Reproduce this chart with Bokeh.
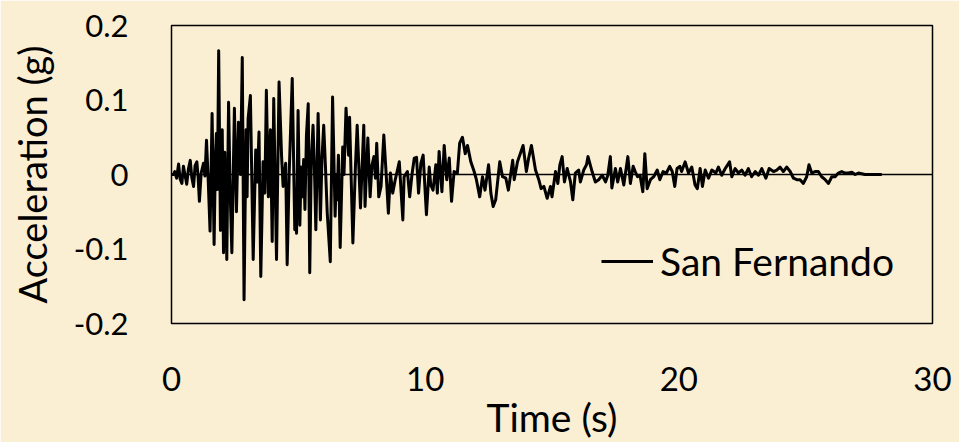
from bokeh.plotting import figure
from bokeh.models import FixedTicker, Span, Legend, LegendItem, ColumnDataSource
from bokeh.embed import file_html
from bokeh.resources import INLINE

# ---- data ----
time_s = [0.0, 0.08, 0.13, 0.2, 0.28, 0.34, 0.41, 0.47, 0.53, 0.6, 0.67, 0.74, 0.8, 0.87, 0.93, 1.0,
          1.05, 1.1, 1.17, 1.26, 1.32, 1.38, 1.45, 1.52, 1.6, 1.68, 1.73, 1.77, 1.81, 1.86, 1.93, 2.0,
          2.05, 2.1, 2.18, 2.25, 2.31, 2.38, 2.48, 2.56, 2.64, 2.72, 2.79, 2.86, 2.94, 2.98, 3.02, 3.11,
          3.22, 3.32, 3.38, 3.45, 3.52, 3.61, 3.68, 3.74, 3.82, 3.9, 3.97, 4.03, 4.14, 4.24, 4.34, 4.4,
          4.5, 4.56, 4.64, 4.76, 4.86, 4.9, 4.93, 4.99, 5.06, 5.11, 5.16, 5.21, 5.26, 5.32, 5.39, 5.45,
          5.51, 5.58, 5.64, 5.69, 5.78, 5.87, 5.93, 6.0, 6.07, 6.14, 6.26, 6.35, 6.45, 6.5, 6.53, 6.58,
          6.65, 6.75, 6.8, 6.88, 6.98, 7.02, 7.15, 7.25, 7.32, 7.45, 7.58, 7.63, 7.74, 7.83, 7.9, 7.98,
          8.04, 8.09, 8.17, 8.26, 8.37, 8.46, 8.55, 8.63, 8.72, 8.82, 8.98, 9.12, 9.17, 9.3, 9.39, 9.48,
          9.57, 9.66, 9.74, 9.83, 9.92, 10.05, 10.16, 10.22, 10.31, 10.42, 10.48, 10.55, 10.66, 10.75,
          10.85, 10.95, 11.04, 11.14, 11.27, 11.36, 11.47, 11.58, 11.67, 11.8, 11.93, 12.02, 12.15,
          12.26, 12.36, 12.5, 12.59, 12.68, 12.78, 12.94, 13.05, 13.18, 13.28, 13.45, 13.51, 13.64,
          13.75, 13.86, 13.99, 14.08, 14.19, 14.35, 14.48, 14.57, 14.68, 14.81, 14.94, 15.0, 15.14,
          15.23, 15.31, 15.4, 15.49, 15.6, 15.73, 15.82, 15.92, 16.05, 16.12, 16.25, 16.36, 16.42,
          16.58, 16.71, 16.84, 16.98, 17.11, 17.2, 17.3, 17.36, 17.5, 17.59, 17.7, 17.83, 17.99, 18.09,
          18.2, 18.28, 18.37, 18.47, 18.58, 18.66, 18.75, 18.88, 19.01, 19.15, 19.25, 19.38, 19.51,
          19.64, 19.74, 19.84, 19.93, 20.04, 20.11, 20.25, 20.38, 20.51, 20.64, 20.73, 20.84, 20.93,
          21.04, 21.17, 21.3, 21.46, 21.56, 21.69, 21.83, 22.0, 22.09, 22.22, 22.35, 22.48, 22.61,
          22.74, 22.87, 23.01, 23.14, 23.27, 23.43, 23.56, 23.73, 23.86, 23.99, 24.12, 24.25, 24.39,
          24.52, 24.65, 24.78, 24.91, 25.04, 25.13, 25.24, 25.37, 25.5, 25.63, 25.77, 25.9, 26.03,
          26.16, 26.29, 26.42, 26.55, 26.68, 26.82, 26.95, 27.08, 27.34, 28.0]

accel_g = [0.0, 0.0, 0.004, -0.005, 0.014, -0.006, -0.012, 0.011, 0.0, -0.013, 0.008, 0.019, -0.004,
           -0.016, 0.012, 0.017, -0.004, -0.036, 0.002, 0.015, -0.002, 0.046, -0.01, -0.076, 0.082,
           -0.094, 0.02, 0.055, -0.02, 0.166, -0.075, 0.06, -0.105, 0.03, -0.114, 0.097, -0.02, -0.105,
           0.089, -0.05, 0.07, 0.0, 0.157, -0.168, 0.06, -0.03, 0.075, 0.106, -0.114, 0.033, -0.01,
           0.057, -0.137, 0.017, -0.025, 0.113, -0.03, 0.06, -0.09, 0.102, -0.114, 0.124, 0.024, -0.016,
           0.015, -0.121, 0.002, 0.129, -0.074, -0.02, -0.079, 0.086, -0.068, 0.01, -0.03, 0.02, -0.047,
           0.053, 0.095, -0.132, 0.02, 0.066, 0.0, -0.074, 0.082, -0.061, 0.02, 0.066, 0.01, -0.052,
           -0.117, 0.104, -0.056, 0.0, -0.034, 0.026, -0.098, 0.037, 0.0, 0.089, 0.026, 0.077, -0.092,
           0.01, 0.066, -0.045, 0.066, -0.043, 0.049, -0.03, 0.012, 0.024, -0.005, 0.042, -0.03, -0.016,
           0.053, 0.002, -0.052, 0.002, -0.025, -0.007, 0.017, -0.061, -0.003, 0.004, -0.03, 0.0, 0.022,
           0.023, -0.025, 0.015, 0.026, -0.054, 0.01, -0.014, -0.021, 0.013, -0.025, 0.031, -0.023,
           0.039, -0.007, 0.022, -0.036, 0.004, 0.002, 0.042, 0.05, 0.028, 0.039, 0.017, 0.004, -0.007,
           -0.03, -0.003, -0.021, 0.013, -0.025, -0.043, -0.034, 0.017, -0.003, -0.005, -0.021, 0.019,
           -0.007, 0.017, 0.028, 0.039, 0.004, 0.022, 0.039, 0.006, -0.007, -0.019, -0.016, -0.032,
           -0.016, -0.03, 0.004, -0.012, 0.013, 0.024, -0.01, 0.008, -0.01, -0.034, 0.002, 0.006, -0.01,
           0.006, 0.013, 0.024, 0.004, -0.01, -0.007, -0.001, -0.01, -0.001, 0.024, -0.018, 0.008,
           -0.01, 0.008, -0.014, 0.024, -0.012, 0.011, 0.004, -0.003, -0.001, -0.023, 0.028, -0.019,
           -0.007, -0.003, 0.006, -0.007, 0.004, 0.002, 0.011, 0.004, -0.016, 0.008, 0.011, 0.004,
           0.017, 0.002, 0.01, -0.014, -0.019, 0.008, -0.016, 0.006, -0.005, 0.006, 0.002, 0.01, -0.001,
           0.008, 0.017, -0.003, 0.008, 0.002, 0.006, -0.001, 0.008, -0.003, 0.004, -0.001, 0.008,
           -0.005, 0.008, 0.004, 0.006, 0.01, 0.004, 0.01, 0.004, -0.005, -0.007, -0.007, -0.012,
           -0.003, 0.013, 0.002, 0.004, 0.004, -0.003, -0.007, -0.012, -0.003, -0.003, 0.002, 0.004,
           0.002, 0.002, 0.003, 0.0, 0.002, 0.0, 0.0]

x_ticks = [0, 10, 20, 30]
y_ticks = [-0.2, -0.1, 0, 0.1, 0.2]
y_tick_labels = ["-0.2", "-0.1", "0", "0.1", "0.2"]
series_name = "San Fernando"
x_title = "Time (s)"
y_title = "Acceleration (g)"

BG = "#FAEED3"
FONT = "Lato"

p = figure(width=959, height=442, output_backend="svg", toolbar_location=None,
           x_range=(0, 30), y_range=(-0.2, 0.2),
           min_border_left=171, min_border_right=27, min_border_top=25, min_border_bottom=118)

p.background_fill_color = BG
p.border_fill_color = BG
p.outline_line_color = "black"
p.outline_line_width = 1.5
p.grid.visible = False

src = ColumnDataSource(dict(t=time_s, a=accel_g))

zero = Span(location=0, dimension="width", line_color="black", line_width=1.3)
p.add_layout(zero)

r = p.line("t", "a", source=src, line_color="black", line_width=3, line_join="round")

for ax in (p.xaxis[0], p.yaxis[0]):
    ax.axis_line_color = None
    ax.major_tick_line_color = None
    ax.minor_tick_line_color = None
    ax.major_tick_out = 0
    ax.major_tick_in = 0
    ax.minor_tick_out = 0
    ax.minor_tick_in = 0
    ax.major_label_text_font = FONT
    ax.axis_label_text_font = FONT
    ax.major_label_text_color = "black"
    ax.axis_label_text_color = "black"
    ax.axis_label_text_font_style = "normal"

p.xaxis.ticker = FixedTicker(ticks=x_ticks)
p.yaxis.ticker = FixedTicker(ticks=y_ticks)
p.yaxis.major_label_overrides = {v: s for v, s in zip(y_ticks, y_tick_labels)}
p.xaxis.major_label_overrides = {v: str(v) for v in x_ticks}

p.xaxis.axis_label = x_title
p.yaxis.axis_label = y_title
p.xaxis.major_label_text_font_size = "33px"
p.yaxis.major_label_text_font_size = "31px"
p.xaxis.axis_label_text_font_size = "39px"
p.yaxis.axis_label_text_font_size = "38px"
p.yaxis.major_label_standoff = 43
p.yaxis.axis_label_standoff = 16
p.xaxis.major_label_standoff = 43
p.xaxis.axis_label_standoff = 0

legend = Legend(items=[LegendItem(label=series_name, renderers=[r])],
                location=(430, 39), orientation="vertical",
                background_fill_alpha=0, border_line_color=None,
                label_text_font=FONT, label_text_font_size="39px", label_text_color="black",
                glyph_width=52, glyph_height=40, label_standoff=7,
                padding=0, margin=0, spacing=0)
p.add_layout(legend, "center")

open("out.html", "w").write(file_html(p, INLINE))
